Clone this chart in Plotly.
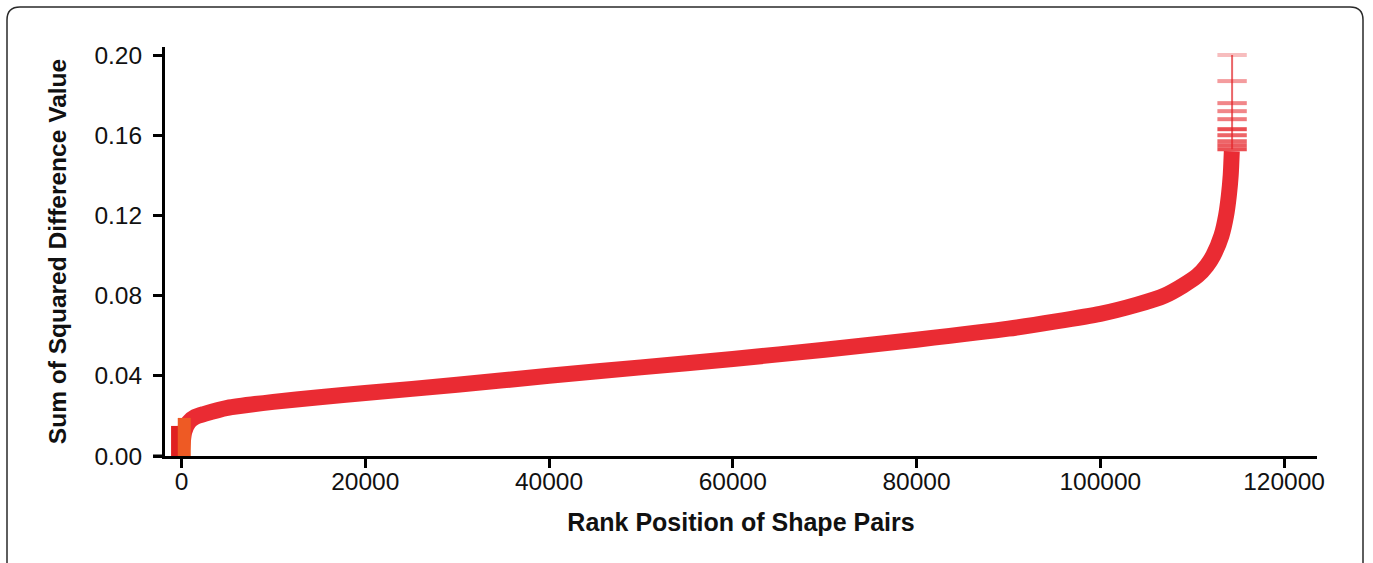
import plotly.graph_objects as go

# Data
rank = [0, 300, 800, 1500, 2500, 5000, 10000, 15000, 20000, 30000, 40000, 50000,
        60000, 70000, 80000, 90000, 100000, 104000, 107000, 109000, 110600,
        111600, 112300, 113200, 113700, 114000, 114200, 114320]
value = [0.000, 0.012, 0.017, 0.0195, 0.021, 0.0240, 0.0270, 0.0293, 0.0314, 0.0355,
         0.0400, 0.0442, 0.0484, 0.0530, 0.0580, 0.0635, 0.0709, 0.0755, 0.0800,
         0.0850, 0.0900, 0.0950, 0.1000, 0.1100, 0.1200, 0.1300, 0.1400, 0.1520]

tail_rank = [114350] * 10
tail_value = [0.200, 0.187, 0.176, 0.172, 0.168, 0.163, 0.160, 0.157, 0.155, 0.153]
tail_alpha = [0.3, 0.45, 0.55, 0.55, 0.6, 0.8, 0.7, 0.7, 0.75, 0.8]

low_rank = [300, 300]
low_value = [0.000, 0.019]
low_rank2 = [-700, -700]
low_value2 = [0.000, 0.015]

x_ticks = [0, 20000, 40000, 60000, 80000, 100000, 120000]
y_ticks = [0.00, 0.04, 0.08, 0.12, 0.16, 0.20]

W, H = 1373, 563
L, R, T, B = 165, W - 1317, 47, H - 456
pw, ph = W - L - R, H - T - B

RED = "rgba(233,30,38,0.94)"

fig = go.Figure()
fig.add_trace(go.Scatter(x=rank, y=value, mode="lines",
                         line=dict(color=RED, width=16, shape="spline", smoothing=0.6),
                         hoverinfo="skip", showlegend=False))
fig.add_trace(go.Scatter(x=[tail_rank[0], tail_rank[0]], y=[tail_value[-1], tail_value[0]],
                         mode="lines", line=dict(color="rgba(225,35,40,0.7)", width=2),
                         hoverinfo="skip", showlegend=False))
fig.add_trace(go.Scatter(x=tail_rank, y=tail_value, mode="markers",
                         marker=dict(symbol="line-ew", size=21,
                                     line=dict(color=[f"rgba(230,35,40,{a})" for a in tail_alpha],
                                               width=4)),
                         hoverinfo="skip", showlegend=False))
fig.add_trace(go.Scatter(x=low_rank2, y=low_value2, mode="lines",
                         line=dict(color="#E02020", width=8),
                         hoverinfo="skip", showlegend=False))
fig.add_trace(go.Scatter(x=low_rank, y=low_value, mode="lines",
                         line=dict(color="#EE5A24", width=13),
                         hoverinfo="skip", showlegend=False))

def px_x(p):
    return (p - L) / pw

def px_y(p):
    return (H - B - p) / ph

lx, rx = px_x(7), px_x(1363)
ty, by = px_y(7), px_y(600)
dx, dy = 13 / pw, 13 / ph
frame = (f"M {lx},{by} L {lx},{ty-dy} Q {lx},{ty} {lx+dx},{ty} "
         f"L {rx-dx},{ty} Q {rx},{ty} {rx},{ty-dy} L {rx},{by}")

fig.update_layout(
    width=W, height=H,
    margin=dict(l=L, r=R, t=T, b=B, pad=0),
    paper_bgcolor="white", plot_bgcolor="white",
    font=dict(family="Liberation Sans, Arial, sans-serif", color="#111"),
    shapes=[
        dict(type="path", path=frame, xref="paper", yref="paper",
             line=dict(color="#2a2a2a", width=1.5), layer="below"),
        dict(type="line", xref="paper", yref="paper", x0=px_x(153), x1=0, y0=0, y1=0,
             line=dict(color="black", width=3)),
    ],
    xaxis=dict(range=[-1796, 123592], tickvals=x_ticks,
               ticktext=[str(v) for v in x_ticks],
               showgrid=False, zeroline=False, showline=True, linecolor="black",
               linewidth=3, ticks="outside", ticklen=9, tickwidth=3, tickcolor="black",
               tickfont=dict(size=24.5), ticklabelstandoff=-7,
               title=dict(text="<b>Rank Position of Shape Pairs</b>",
                          font=dict(size=25), standoff=20)),
    yaxis=dict(range=[0, 0.204], tickvals=y_ticks,
               ticktext=[f"{v:.2f}" for v in y_ticks],
               showgrid=False, zeroline=False, showline=True, linecolor="black",
               linewidth=3, ticks="outside", ticklen=9, tickwidth=3, tickcolor="black",
               tickfont=dict(size=24.5), ticklabelstandoff=6,
               title=dict(text="<b>Sum of Squared Difference Value</b>",
                          font=dict(size=24.5), standoff=21)),
)

fig.write_html("out.html", config={"displayModeBar": False},
               post_script="document.body.style.margin='0';")
